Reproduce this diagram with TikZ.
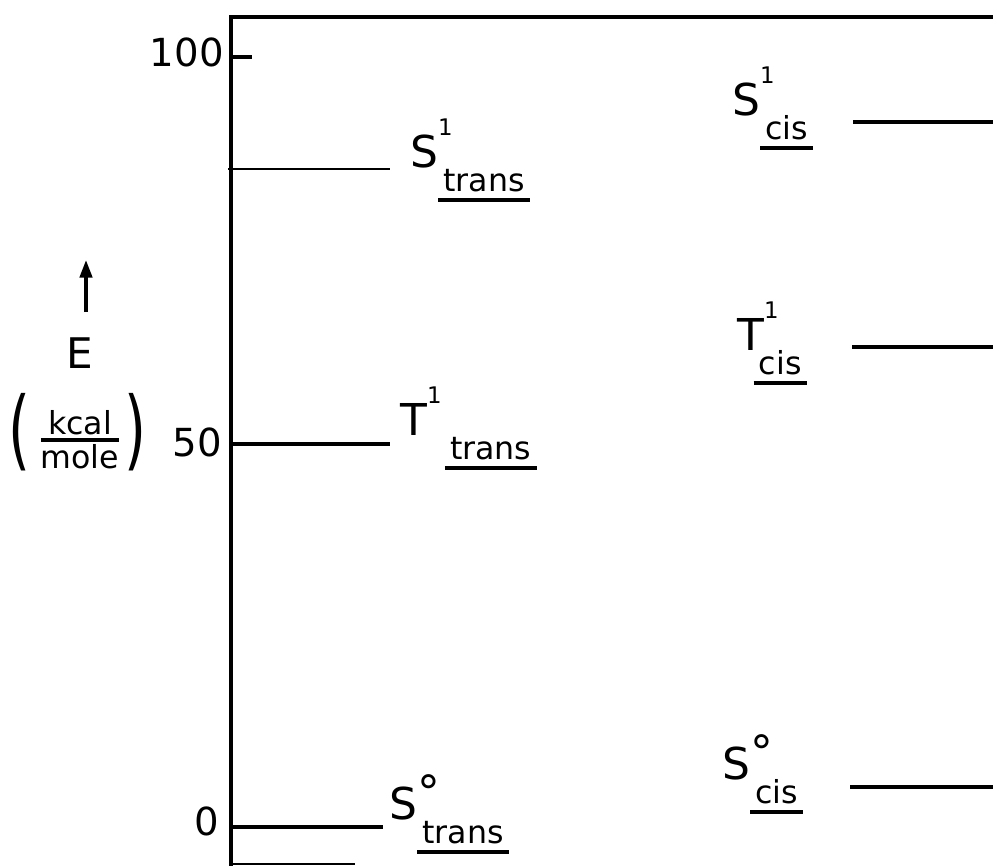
\documentclass[tikz,border=0pt]{standalone}
\usepackage{fontspec}
\usepackage{graphicx}
\setmainfont{DejaVu Sans}
\usetikzlibrary{arrows.meta}

% underlined subscript and level label
\newcommand{\ulbar}[1]{\vtop{\hbox{\kern3pt#1\kern3pt}\kern3.5pt\hrule height 2.2pt}}
\newcommand{\supone}{\raisebox{0.72em}{\fontsize{13}{13}\selectfont 1}}
\newcommand{\supnought}{\raisebox{0.24em}{\fontsize{26}{26}\selectfont °}}
\newcommand{\lvlname}[4][0pt]{#2\rlap{#3}\kern#1\raisebox{-0.55em}{\fontsize{18}{18}\selectfont\ulbar{#4}}}

\begin{document}
\begin{tikzpicture}[
    x=0.02cm, y=-0.02cm,
    frame/.style={line width=2.5pt},
    level/.style={line width=2.2pt},
    state/.style={anchor=base west, inner sep=0pt, font=\fontsize{25}{25}\selectfont},
    ticklabel/.style={anchor=east, inner sep=0pt, font=\fontsize{22}{22}\selectfont},
    paren/.style={inner sep=0pt, font=\fontsize{32}{32}\selectfont},
    earrow/.style={-{Triangle[length=10pt,width=7pt]}, line width=2pt}
  ]
  \useasboundingbox (0,0) rectangle (993,865);

  % Marco y eje
  \draw[frame] (231,866) -- (231,17) -- (993,17);
  \draw[line width=1.2pt] (231,864) -- (355,864);
  \draw[line width=1.8pt] (231,57) -- (252,57);

  % Escala
  \node[ticklabel] (t100) at (224,52) {100};
  \node[ticklabel] (t50) at (222,442) {50};
  \node[ticklabel] (t0) at (219,821) {0};

  % Niveles trans
  \draw[line width=1.3pt] (228,169) -- (390,169);
  \draw[level] (231,444) -- (390,444);
  \draw[level] (231,827) -- (383,827);

  % Niveles cis
  \foreach \y/\x in {122/853, 347/852, 787/850}
    \draw[level] (\x,\y) -- (993,\y);

  % Nombres de los estados
  \node[state] (s1trans) at (410,167) {\lvlname{S}{\supone}{trans}};
  \node[state] (t1trans) at (400,435) {\lvlname[10pt]{T}{\supone}{trans}};
  \node[state] (s0trans) at (389,819) {\lvlname{S}{\supnought}{trans}};
  \node[state] (s1cis) at (732,115) {\lvlname{S}{\supone}{cis}};
  \node[state] (t1cis) at (737,350) {\lvlname[-6pt]{T}{\supone}{cis}};
  \node[state] (s0cis) at (722,779) {\lvlname{S}{\supnought}{cis}};

  % Eje de energia
  \coordinate (etail) at (86,312);
  \coordinate (etip) at (86,260);
  \draw[earrow] (etail) -- (etip);
  \node[inner sep=0pt, font=\fontsize{24}{24}\selectfont] (E) at (80,353) {E};
  \node[inner sep=0pt, font=\fontsize{18}{18}\selectfont] (unit) at (80,440) {$\mbox{kcal}\above 1.8pt\mbox{mole}$};
  \node[paren] (lpar) at (19,432) {\scalebox{1}[1.55]{(}};
  \node[paren] (rpar) at (135,432) {\scalebox{1}[1.55]{)}};
\end{tikzpicture}
\end{document}
